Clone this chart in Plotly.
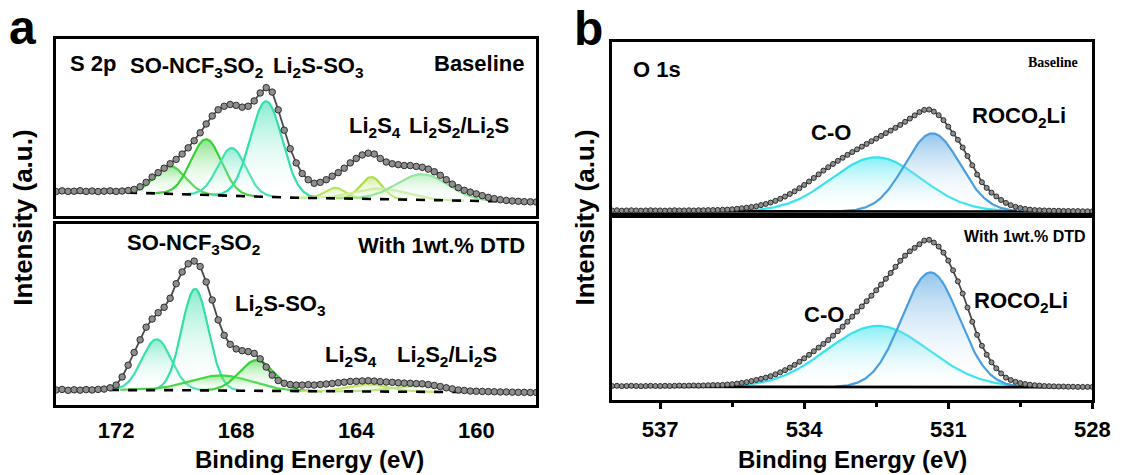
import numpy as np
import plotly.graph_objects as go

SANS = "Liberation Sans"
SERIF = "Liberation Serif"

# ---------------- S 2p spectra (panel a) ----------------
s2p_energy = np.round(np.linspace(174.0, 158.0, 81), 1)

s2p_baseline = [
    13.8, 14.2, 13.9, 14.0, 14.3, 13.9, 14.1, 13.8, 14.0, 14.2,
    13.9, 14.1, 14.4, 15.0, 16.5, 19.0, 22.0, 24.5, 27.0, 29.5,
    32.0, 35.0, 38.5, 42.5, 47.0, 52.0, 56.5, 60.0, 62.0, 63.0,
    62.5, 61.5, 62.0, 65.0, 69.5, 72.5, 70.0, 60.0, 48.5, 38.0,
    30.0, 24.0, 20.5, 18.5, 19.0, 20.5, 22.5, 24.5, 27.0, 30.0,
    32.5, 34.5, 35.5, 35.0, 32.5, 30.5, 29.5, 29.0, 28.5, 28.5,
    28.0, 27.5, 26.5, 25.0, 23.0, 20.5, 18.0, 16.0, 14.5, 13.5,
    12.5, 11.5, 10.5, 9.8, 9.2, 8.8, 8.5, 8.3, 8.1, 8.0, 7.9,
]

s2p_dtd = [
    8.3, 8.6, 8.1, 8.4, 8.2, 8.5, 8.3, 8.6, 8.8, 9.5,
    11.0, 15.5, 22.0, 29.0, 36.0, 43.0, 47.5, 51.0, 54.0, 59.0,
    67.0, 73.5, 78.0, 79.5, 76.5, 68.0, 58.0, 47.0, 38.5, 33.5,
    31.0, 30.0, 29.5, 28.5, 25.5, 21.0, 16.5, 13.5, 12.0, 11.3,
    11.0, 11.0, 11.2, 11.0, 11.3, 11.6, 11.9, 12.3, 12.6, 13.0,
    13.1, 13.3, 13.4, 13.2, 12.9, 12.7, 12.5, 12.3, 12.1, 12.0,
    11.8, 11.7, 11.3, 10.8, 10.2, 9.5, 8.9, 8.3, 8.0, 7.7,
    7.6, 7.5, 7.4, 7.3, 7.2, 7.2, 7.1, 7.0, 7.0, 6.9, 6.9,
]

# Shirley background anchors (energy, intensity)
s2p_bg_baseline_e = [174.0, 171.5, 170.0, 168.5, 167.0, 166.0, 164.0, 162.0, 160.0, 158.0]
s2p_bg_baseline_i = [13.6, 13.2, 12.4, 11.6, 10.8, 10.3, 9.8, 9.2, 8.5, 7.9]
s2p_bg_dtd_e = [174.0, 172.0, 170.0, 168.0, 166.0, 162.0, 158.0]
s2p_bg_dtd_i = [8.3, 8.4, 8.2, 7.9, 7.6, 7.3, 6.9]

# fitted components: centre (eV), height, FWHM (eV), colour
s2p_base_center = [170.2, 169.0, 168.15, 167.0, 164.7, 163.5, 163.2, 161.8]
s2p_base_height = [15.7, 31.5, 27.0, 54.0, 6.0, 12.4, 6.0, 14.5]
s2p_base_fwhm = [1.2, 1.2, 1.1, 1.25, 0.8, 0.85, 2.0, 2.0]
s2p_base_color = ["#46d646", "#38d038", "#45e0b4", "#33dfb0",
                  "#bde35e", "#b0dc4c", "#cdeea0", "#93e69b"]

s2p_dtd_center = [170.65, 169.37, 168.5, 167.32, 163.6, 161.9]
s2p_dtd_height = [28.0, 56.0, 8.4, 17.0, 4.0, 3.5]
s2p_dtd_fwhm = [1.15, 1.05, 2.4, 1.35, 1.6, 2.0]
s2p_dtd_color = ["#3fe0b0", "#34dea8", "#45d645", "#3ad23a", "#c3e36a", "#b4e884"]

s2p_ticks = [172, 168, 164, 160]

# ---------------- O 1s spectra (panel b) ----------------
o1s_energy = np.round(np.linspace(538.0, 528.0, 101), 1)

o1s_baseline = [
    1.5, 1.6, 1.4, 1.5, 1.6, 1.5, 1.4, 1.5, 1.6, 1.5,
    1.5, 1.4, 1.5, 1.6, 1.5, 1.5, 1.6, 1.5, 1.6, 1.6,
    1.7, 1.7, 1.8, 1.9, 2.0, 2.2, 2.5, 2.8, 3.1, 3.5,
    3.9, 4.6, 5.3, 6.1, 7.1, 8.3, 9.6, 11.1, 12.7, 14.5,
    16.4, 18.4, 20.5, 22.6, 24.8, 26.8, 28.7, 30.5, 32.3, 34.0,
    35.6, 37.2, 38.8, 40.4, 42.0, 43.5, 45.1, 46.7, 48.2, 49.8,
    51.5, 53.3, 55.2, 57.1, 59.0, 60.3, 60.5, 59.3, 57.2, 54.3,
    50.5, 46.5, 42.8, 38.3, 33.3, 27.9, 22.5, 18.0, 14.7, 11.9,
    9.7, 7.6, 5.9, 4.6, 3.6, 2.9, 2.4, 2.0, 1.7, 1.6,
    1.5, 1.4, 1.3, 1.3, 1.2, 1.2, 1.1, 1.1, 1.0, 1.0, 1.0,
]

o1s_dtd = [
    7.7, 7.8, 7.6, 7.7, 7.8, 7.7, 7.6, 7.7, 7.8, 7.7,
    7.7, 7.8, 7.7, 7.8, 7.9, 7.8, 7.9, 8.0, 7.9, 8.0,
    8.1, 8.2, 8.2, 8.3, 8.5, 8.7, 9.0, 9.4, 9.8, 10.4,
    11.0, 11.6, 12.3, 13.1, 14.1, 15.2, 16.4, 17.8, 19.3, 21.0,
    22.9, 24.8, 26.8, 28.8, 30.8, 32.9, 35.3, 37.8, 40.3, 43.0,
    45.8, 48.6, 51.4, 54.3, 57.3, 60.3, 63.4, 66.6, 69.8, 73.2,
    76.5, 79.3, 81.7, 83.6, 85.6, 87.6, 88.0, 86.5, 84.3, 81.0,
    76.6, 71.3, 65.2, 58.5, 50.8, 43.0, 35.8, 29.8, 24.9, 20.7,
    17.4, 14.6, 12.3, 11.0, 10.0, 9.3, 8.8, 8.4, 8.1, 7.9,
    7.7, 7.6, 7.5, 7.4, 7.4, 7.3, 7.3, 7.2, 7.2, 7.2, 7.2,
]

o1s_bg_baseline_e = [538.0, 528.0]
o1s_bg_baseline_i = [1.0, 0.9]
o1s_bg_dtd_e = [538.0, 528.0]
o1s_bg_dtd_i = [7.3, 7.0]

o1s_base_center = [532.5, 531.33]
o1s_base_height = [31.6, 45.6]
o1s_base_fwhm = [2.2, 1.35]
o1s_dtd_center = [532.47, 531.37]
o1s_dtd_height = [33.6, 63.0]
o1s_dtd_fwhm = [2.5, 1.4]
o1s_color = ["#35e3ef", "#4a9fe0"]

o1s_ticks = [537, 534, 531, 528]
o1s_minor = [535.5, 532.5, 529.5]


def rgba(hex_color, alpha):
    h = hex_color.lstrip("#")
    r, g, b = int(h[0:2], 16), int(h[2:4], 16), int(h[4:6], 16)
    return f"rgba({r},{g},{b},{alpha})"


def gauss(e, c, h, w):
    return h * np.exp(-4.0 * np.log(2.0) * (e - c) ** 2 / w ** 2)


fig = go.Figure()


def add_panel(xa, ya, energy, data, bg_e, bg_i, centers, heights, fwhms, colors,
              e_lo, e_hi, bg_dash, msize):
    grid = np.linspace(e_hi, e_lo, 600)
    bg_grid = np.interp(grid, bg_e[::-1], bg_i[::-1])
    for c, h, w, col in zip(centers, heights, fwhms, colors):
        g = gauss(grid, c, h, w)
        keep = g > 0.004 * h
        ex = grid[keep]
        top = bg_grid[keep] + g[keep]
        base = bg_grid[keep]
        fig.add_trace(go.Scatter(
            x=np.concatenate([ex, ex[::-1]]),
            y=np.concatenate([top, base[::-1]]),
            xaxis=xa, yaxis=ya, mode="lines", line=dict(width=0),
            fill="toself",
            fillgradient=dict(type="vertical",
                              colorscale=[[0, "rgba(255,255,255,0)"],
                                          [1, rgba(col, 0.6)]]),
            hoverinfo="skip"))
        fig.add_trace(go.Scatter(
            x=ex, y=top, xaxis=xa, yaxis=ya, mode="lines",
            line=dict(color=col, width=2.2), hoverinfo="skip"))
    fig.add_trace(go.Scatter(
        x=bg_e, y=bg_i, xaxis=xa, yaxis=ya, mode="lines",
        line=dict(color="black", width=2.6, dash=bg_dash), hoverinfo="skip"))
    fig.add_trace(go.Scatter(
        x=energy, y=data, xaxis=xa, yaxis=ya, mode="lines+markers",
        line=dict(color="#4a4a4a", width=1.8),
        marker=dict(size=msize, color="#8e8e8e",
                    line=dict(color="#2e2e2e", width=1))))


add_panel("x", "y", s2p_energy, s2p_baseline, s2p_bg_baseline_e, s2p_bg_baseline_i,
          s2p_base_center, s2p_base_height, s2p_base_fwhm, s2p_base_color,
          158.0, 174.0, "dash", 6.5)
add_panel("x2", "y2", s2p_energy, s2p_dtd, s2p_bg_dtd_e, s2p_bg_dtd_i,
          s2p_dtd_center, s2p_dtd_height, s2p_dtd_fwhm, s2p_dtd_color,
          158.0, 174.0, "dash", 6.5)
add_panel("x3", "y3", o1s_energy, o1s_baseline, o1s_bg_baseline_e, o1s_bg_baseline_i,
          o1s_base_center, o1s_base_height, o1s_base_fwhm, o1s_color,
          528.0, 538.0, "solid", 5)
add_panel("x4", "y4", o1s_energy, o1s_dtd, o1s_bg_dtd_e, o1s_bg_dtd_i,
          o1s_dtd_center, o1s_dtd_height, o1s_dtd_fwhm, o1s_color,
          528.0, 538.0, "solid", 5)

W, H = 1132, 475


def px(v):
    return v / W


def py(v):
    return 1 - v / H


frame = dict(showline=True, mirror=True, linecolor="black", linewidth=2.8,
             showgrid=False, zeroline=False)
tickfont = dict(family=SANS, size=22, color="black", weight="bold")

fig.update_layout(
    width=W, height=H, margin=dict(l=0, r=0, t=0, b=0),
    paper_bgcolor="white", plot_bgcolor="white", showlegend=False,
    xaxis=dict(domain=[px(57), px(545)], range=[174, 158], anchor="y",
               showticklabels=False, ticks="", **frame),
    yaxis=dict(domain=[py(216), py(39)], range=[0, 100], anchor="x",
               showticklabels=False, ticks="", **frame),
    xaxis2=dict(domain=[px(57), px(545)], range=[174, 158], anchor="y2",
                tickvals=s2p_ticks, ticks="", tickfont=tickfont,
                ticklabelstandoff=4, **frame),
    yaxis2=dict(domain=[py(405), py(224)], range=[0, 100], anchor="x2",
                showticklabels=False, ticks="", **frame),
    xaxis3=dict(domain=[px(622), px(1110)], range=[538, 528], anchor="y3",
                showticklabels=False, ticks="", **frame),
    yaxis3=dict(domain=[py(213), py(42)], range=[0, 100], anchor="x3",
                showticklabels=False, ticks="", **frame),
    xaxis4=dict(domain=[px(622), px(1110)], range=[538, 528], anchor="y4",
                tickvals=o1s_ticks, ticks="outside", ticklen=6, tickwidth=2.5,
                tickcolor="black", tickfont=tickfont, ticklabelstandoff=2,
                minor=dict(tickvals=o1s_minor, ticks="outside", ticklen=4,
                           tickwidth=2.5, tickcolor="black"),
                **frame),
    yaxis4=dict(domain=[py(400), py(218)], range=[0, 100], anchor="x4",
                showticklabels=False, ticks="", **frame),
)


def label(text, x, y, xref, yref, size=22, xanchor="left", family=SANS):
    fig.add_annotation(text=text, x=x, y=y, xref=xref, yref=yref,
                       xanchor=xanchor, yanchor="middle", showarrow=False,
                       font=dict(family=family, size=size, color="black", weight="bold"))


# panel a, baseline
label("S 2p", 173.6, 86, "x", "y")
label("SO-NCF<sub>3</sub>SO<sub>2</sub>", 171.6, 84, "x", "y")
label("Li<sub>2</sub>S-SO<sub>3</sub>", 166.85, 84, "x", "y")
label("Baseline", 158.3, 86, "x", "y", xanchor="right")
label("Li<sub>2</sub>S<sub>4</sub>", 164.3, 50, "x", "y")
label("Li<sub>2</sub>S<sub>2</sub>/Li<sub>2</sub>S", 162.3, 50, "x", "y")
# panel a, with DTD
label("SO-NCF<sub>3</sub>SO<sub>2</sub>", 171.7, 89, "x2", "y2")
label("With 1wt.% DTD", 158.3, 88, "x2", "y2", xanchor="right")
label("Li<sub>2</sub>S-SO<sub>3</sub>", 168.1, 55, "x2", "y2")
label("Li<sub>2</sub>S<sub>4</sub>", 165.1, 27, "x2", "y2")
label("Li<sub>2</sub>S<sub>2</sub>/Li<sub>2</sub>S", 162.7, 27, "x2", "y2")
# panel b, baseline
label("O 1s", 537.6, 84, "x3", "y3")
label("Baseline", 528.25, 88, "x3", "y3", size=14, xanchor="right", family=SERIF)
label("C-O", 533.9, 47, "x3", "y3")
label("ROCO<sub>2</sub>Li", 530.55, 56, "x3", "y3")
# panel b, with DTD
label("With 1wt.% DTD", 528.1, 90, "x4", "y4", size=16, xanchor="right")
label("ROCO<sub>2</sub>Li", 530.5, 54, "x4", "y4")
label("C-O", 534.05, 47, "x4", "y4")

# panel letters and axis titles
label("a", px(23), py(27), "paper", "paper", size=48, xanchor="center")
label("b", px(598), py(28), "paper", "paper", size=48, xanchor="center")
for xc in (315, 866):
    label("Binding Energy (eV)", px(xc), py(459), "paper", "paper", size=24,
          xanchor="center")
for xc in (23, 594):
    fig.add_annotation(text="Intensity (a.u.)", x=px(xc), y=py(218),
                       xref="paper", yref="paper", textangle=-90,
                       xanchor="center", yanchor="middle", showarrow=False,
                       font=dict(family=SANS, size=26, color="black", weight="bold"))

fig.write_html("out.html")
